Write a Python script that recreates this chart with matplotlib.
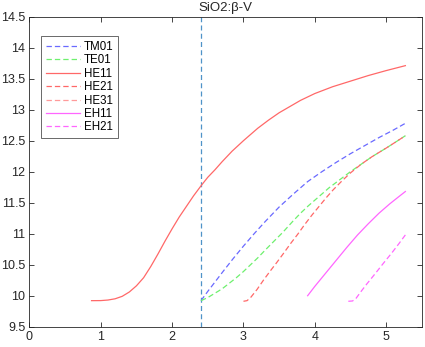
import matplotlib
matplotlib.use("Agg")
import matplotlib.pyplot as plt

plt.rcParams['font.family'] = ['Liberation Sans', 'DejaVu Sans']

title = "SiO2:β-V"
v_cut = 2.405

tm01_x = [2.405, 2.5, 2.6, 2.72, 2.85, 3.0, 3.15, 3.3, 3.5, 3.7, 3.9, 4.1, 4.3, 4.5, 4.7, 4.9, 5.1, 5.27]
tm01_y = [9.92, 10.07, 10.22, 10.40, 10.59, 10.80, 11.00, 11.19, 11.43, 11.64, 11.84, 12.00,
          12.15, 12.29, 12.42, 12.55, 12.67, 12.78]

te01_x = [2.405, 2.5, 2.6, 2.7, 2.8, 2.9, 3.0, 3.1, 3.2, 3.3, 3.42, 3.55, 3.7, 3.8, 3.91, 4.05,
          4.2, 4.35, 4.5, 4.65, 4.8, 5.0, 5.15, 5.27]
te01_y = [9.92, 9.97, 10.04, 10.11, 10.20, 10.29, 10.39, 10.50, 10.61, 10.73, 10.87, 11.02,
          11.21, 11.33, 11.45, 11.59, 11.74, 11.87, 12.00, 12.12, 12.24, 12.38, 12.49, 12.58]

he11_x = [0.87, 1.0, 1.1, 1.2, 1.3, 1.4, 1.5, 1.6, 1.7, 1.8, 1.9, 2.0, 2.1, 2.2, 2.3, 2.41,
          2.5, 2.6, 2.7, 2.84, 3.0, 3.1, 3.2, 3.35, 3.5, 3.65, 3.8, 4.0, 4.25, 4.5, 4.75,
          5.0, 5.27]
he11_y = [9.92, 9.921, 9.93, 9.95, 9.99, 10.06, 10.16, 10.29, 10.47, 10.67, 10.88, 11.08,
          11.27, 11.44, 11.61, 11.78, 11.91, 12.03, 12.16, 12.33, 12.50, 12.60, 12.70, 12.83,
          12.95, 13.05, 13.15, 13.26, 13.37, 13.46, 13.55, 13.63, 13.71]

he21_x = [3.0, 3.05, 3.1, 3.19, 3.28, 3.37, 3.47, 3.56, 3.66, 3.76, 3.86, 3.96, 4.06, 4.16,
          4.26, 4.38, 4.5, 4.65, 4.8, 5.0, 5.15, 5.27]
he21_y = [9.91, 9.92, 9.97, 10.10, 10.25, 10.39, 10.54, 10.68, 10.84, 10.99, 11.15, 11.30,
          11.44, 11.58, 11.71, 11.85, 11.98, 12.12, 12.24, 12.38, 12.49, 12.58]

he31_x = []
he31_y = []

eh11_x = [3.90, 4.0, 4.15, 4.3, 4.45, 4.6, 4.75, 4.9, 5.05, 5.17, 5.27]
eh11_y = [10.0, 10.15, 10.36, 10.57, 10.78, 10.98, 11.16, 11.33, 11.48, 11.59, 11.68]

eh21_x = [4.47, 4.53, 4.58, 4.65, 4.73, 4.85, 4.96, 5.08, 5.18, 5.27]
eh21_y = [9.91, 9.915, 9.96, 10.07, 10.19, 10.36, 10.52, 10.69, 10.84, 10.98]

xticks = [0, 1, 2, 3, 4, 5]
yticks = [9.5, 10, 10.5, 11, 11.5, 12, 12.5, 13, 13.5, 14, 14.5]
ytick_labels = ["9.5", "10", "10.5", "11", "11.5", "12", "12.5", "13", "13.5", "14", "14.5"]

fig = plt.figure(figsize=(4.25, 3.47), dpi=100)
ax = fig.add_axes([0.0694, 0.0585, 0.923, 0.8935])

dash = (0, (4.3, 2.4))
lw = 0.9
ax.axvline(v_cut, color='#4f93c8', lw=0.9, ls=(0, (4.0, 2.6)))
ax.plot(tm01_x, tm01_y, color='#6a6aff', lw=lw, ls=dash, label='TM01')
ax.plot(te01_x, te01_y, color='#6ef06e', lw=lw, ls=dash, label='TE01')
ax.plot(he11_x, he11_y, color='#ff6868', lw=lw, ls='-', label='HE11')
ax.plot(he21_x, he21_y, color='#ff6868', lw=lw, ls=dash, label='HE21')
ax.plot(he31_x, he31_y, color='#ff9a9a', lw=lw, ls=dash, label='HE31')
ax.plot(eh11_x, eh11_y, color='#ff66ff', lw=lw, ls='-', label='EH11')
ax.plot(eh21_x, eh21_y, color='#ff66ff', lw=lw, ls=dash, label='EH21')

ax.set_xlim(0, 5.5)
ax.set_ylim(9.5, 14.5)
ax.set_xticks(xticks)
ax.set_yticks(yticks)
ax.set_yticklabels(ytick_labels)
ax.tick_params(direction='in', top=True, right=True, length=3.5, width=0.6,
               color='#262626', labelsize=9, labelcolor='#262626', pad=3)
for s in ax.spines.values():
    s.set_color('#262626')
    s.set_linewidth(0.6)

ax.set_title(title, fontsize=9.5, color='#262626', pad=4)

leg = ax.legend(loc='upper left', bbox_to_anchor=(0.0295, 0.936), fontsize=8.3,
                frameon=True, fancybox=False, edgecolor='#262626',
                handlelength=3.0, handletextpad=0.3, labelspacing=0.12,
                borderpad=0.4, borderaxespad=0.0)
leg.get_frame().set_linewidth(0.6)

fig.savefig('out.png', dpi=100)
